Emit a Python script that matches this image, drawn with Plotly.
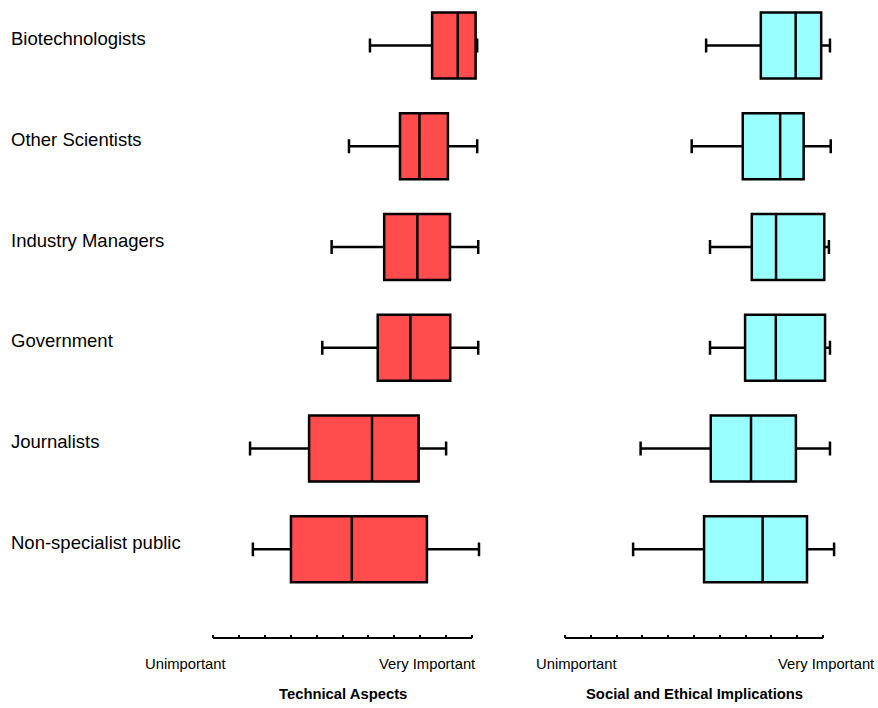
import plotly.graph_objects as go

categories = ["Biotechnologists", "Other Scientists", "Industry Managers",
              "Government", "Journalists", "Non-specialist public"]

# Technical Aspects (0 = Unimportant, 10 = Very Important)
tech_low = [6.06, 5.25, 4.58, 4.22, 1.43, 1.54]
tech_q1 = [8.46, 7.22, 6.61, 6.36, 3.71, 3.01]
tech_med = [9.45, 7.97, 7.89, 7.62, 6.14, 5.36]
tech_q3 = [10.14, 9.07, 9.15, 9.16, 7.94, 8.26]
tech_high = [10.20, 10.20, 10.24, 10.24, 9.00, 10.27]

# Social and Ethical Implications
soc_low = [5.47, 4.91, 5.62, 5.62, 2.93, 2.64]
soc_q1 = [7.59, 6.89, 7.24, 6.98, 5.65, 5.39]
soc_med = [8.94, 8.34, 8.18, 8.17, 7.21, 7.66]
soc_q3 = [9.93, 9.25, 10.05, 10.08, 8.95, 9.38]
soc_high = [10.27, 10.30, 10.23, 10.27, 10.27, 10.43]

tick_vals = list(range(0, 11))
end_labels = ["Unimportant", "Very Important"]
axis_titles = ["Technical Aspects", "Social and Ethical Implications"]

FONT = "Liberation Sans, Arial, sans-serif"
W, H = 878, 708

fig = go.Figure()
fig.add_trace(go.Box(
    y=categories, q1=tech_q1, median=tech_med, q3=tech_q3,
    lowerfence=tech_low, upperfence=tech_high, orientation="h",
    fillcolor="#FF4D4D", line=dict(color="black", width=2.5),
    width=0.655, whiskerwidth=0.21, boxpoints=False,
    xaxis="x", yaxis="y", showlegend=False))
fig.add_trace(go.Box(
    y=categories, q1=soc_q1, median=soc_med, q3=soc_q3,
    lowerfence=soc_low, upperfence=soc_high, orientation="h",
    fillcolor="#99FFFF", line=dict(color="black", width=2.5),
    width=0.655, whiskerwidth=0.21, boxpoints=False,
    xaxis="x2", yaxis="y", showlegend=False))

xcommon = dict(range=[-1, 11], showgrid=False, zeroline=False, showline=False,
               ticks="inside", tickvals=tick_vals, ticklen=3, tickwidth=2,
               tickcolor="black", showticklabels=False, anchor="y",
               fixedrange=True)
fig.update_layout(
    width=W, height=H,
    margin=dict(l=0, r=0, t=0, b=0),
    paper_bgcolor="white", plot_bgcolor="white",
    font=dict(family=FONT, color="black"),
    xaxis=dict(domain=[187.1 / W, 497.9 / W], **xcommon),
    xaxis2=dict(domain=[539.2 / W, 848.8 / W], **xcommon),
    yaxis=dict(type="category", categoryorder="array", categoryarray=categories,
               range=[5.88, -0.451], domain=[1 - 638 / H, 1], visible=False,
               showgrid=False, zeroline=False),
)

# axis lines spanning 0..10
for xr in ["x", "x2"]:
    fig.add_shape(type="line", xref=xr, yref="y domain", x0=0, x1=10, y0=0, y1=0,
                  line=dict(color="black", width=2))

# category labels
for c in categories:
    fig.add_annotation(text=c, xref="paper", x=9 / W, xanchor="left",
                       yref="y", y=c, yanchor="middle", yshift=7, showarrow=False,
                       font=dict(size=18.5, family=FONT, color="black"))

# end labels
label_pos = [(143, end_labels[0]), (377, end_labels[1]),
             (534, end_labels[0]), (776, end_labels[1])]
for px, t in label_pos:
    fig.add_annotation(text=t, xref="paper", x=px / W, xanchor="left",
                       yref="paper", y=1 - 664 / H, yanchor="middle", showarrow=False,
                       font=dict(size=14.8, family=FONT, color="black"))

# axis titles centred on each axis
for xr, t in zip(["x", "x2"], axis_titles):
    fig.add_annotation(text="<b>" + t + "</b>", xref=xr, x=5, xanchor="center",
                       yref="paper", y=1 - 694 / H, yanchor="middle", showarrow=False,
                       font=dict(size=14.8, family=FONT, color="black"))

fig.write_html("out.html", config={"displayModeBar": False},
               post_script="document.body.style.margin='0';")
